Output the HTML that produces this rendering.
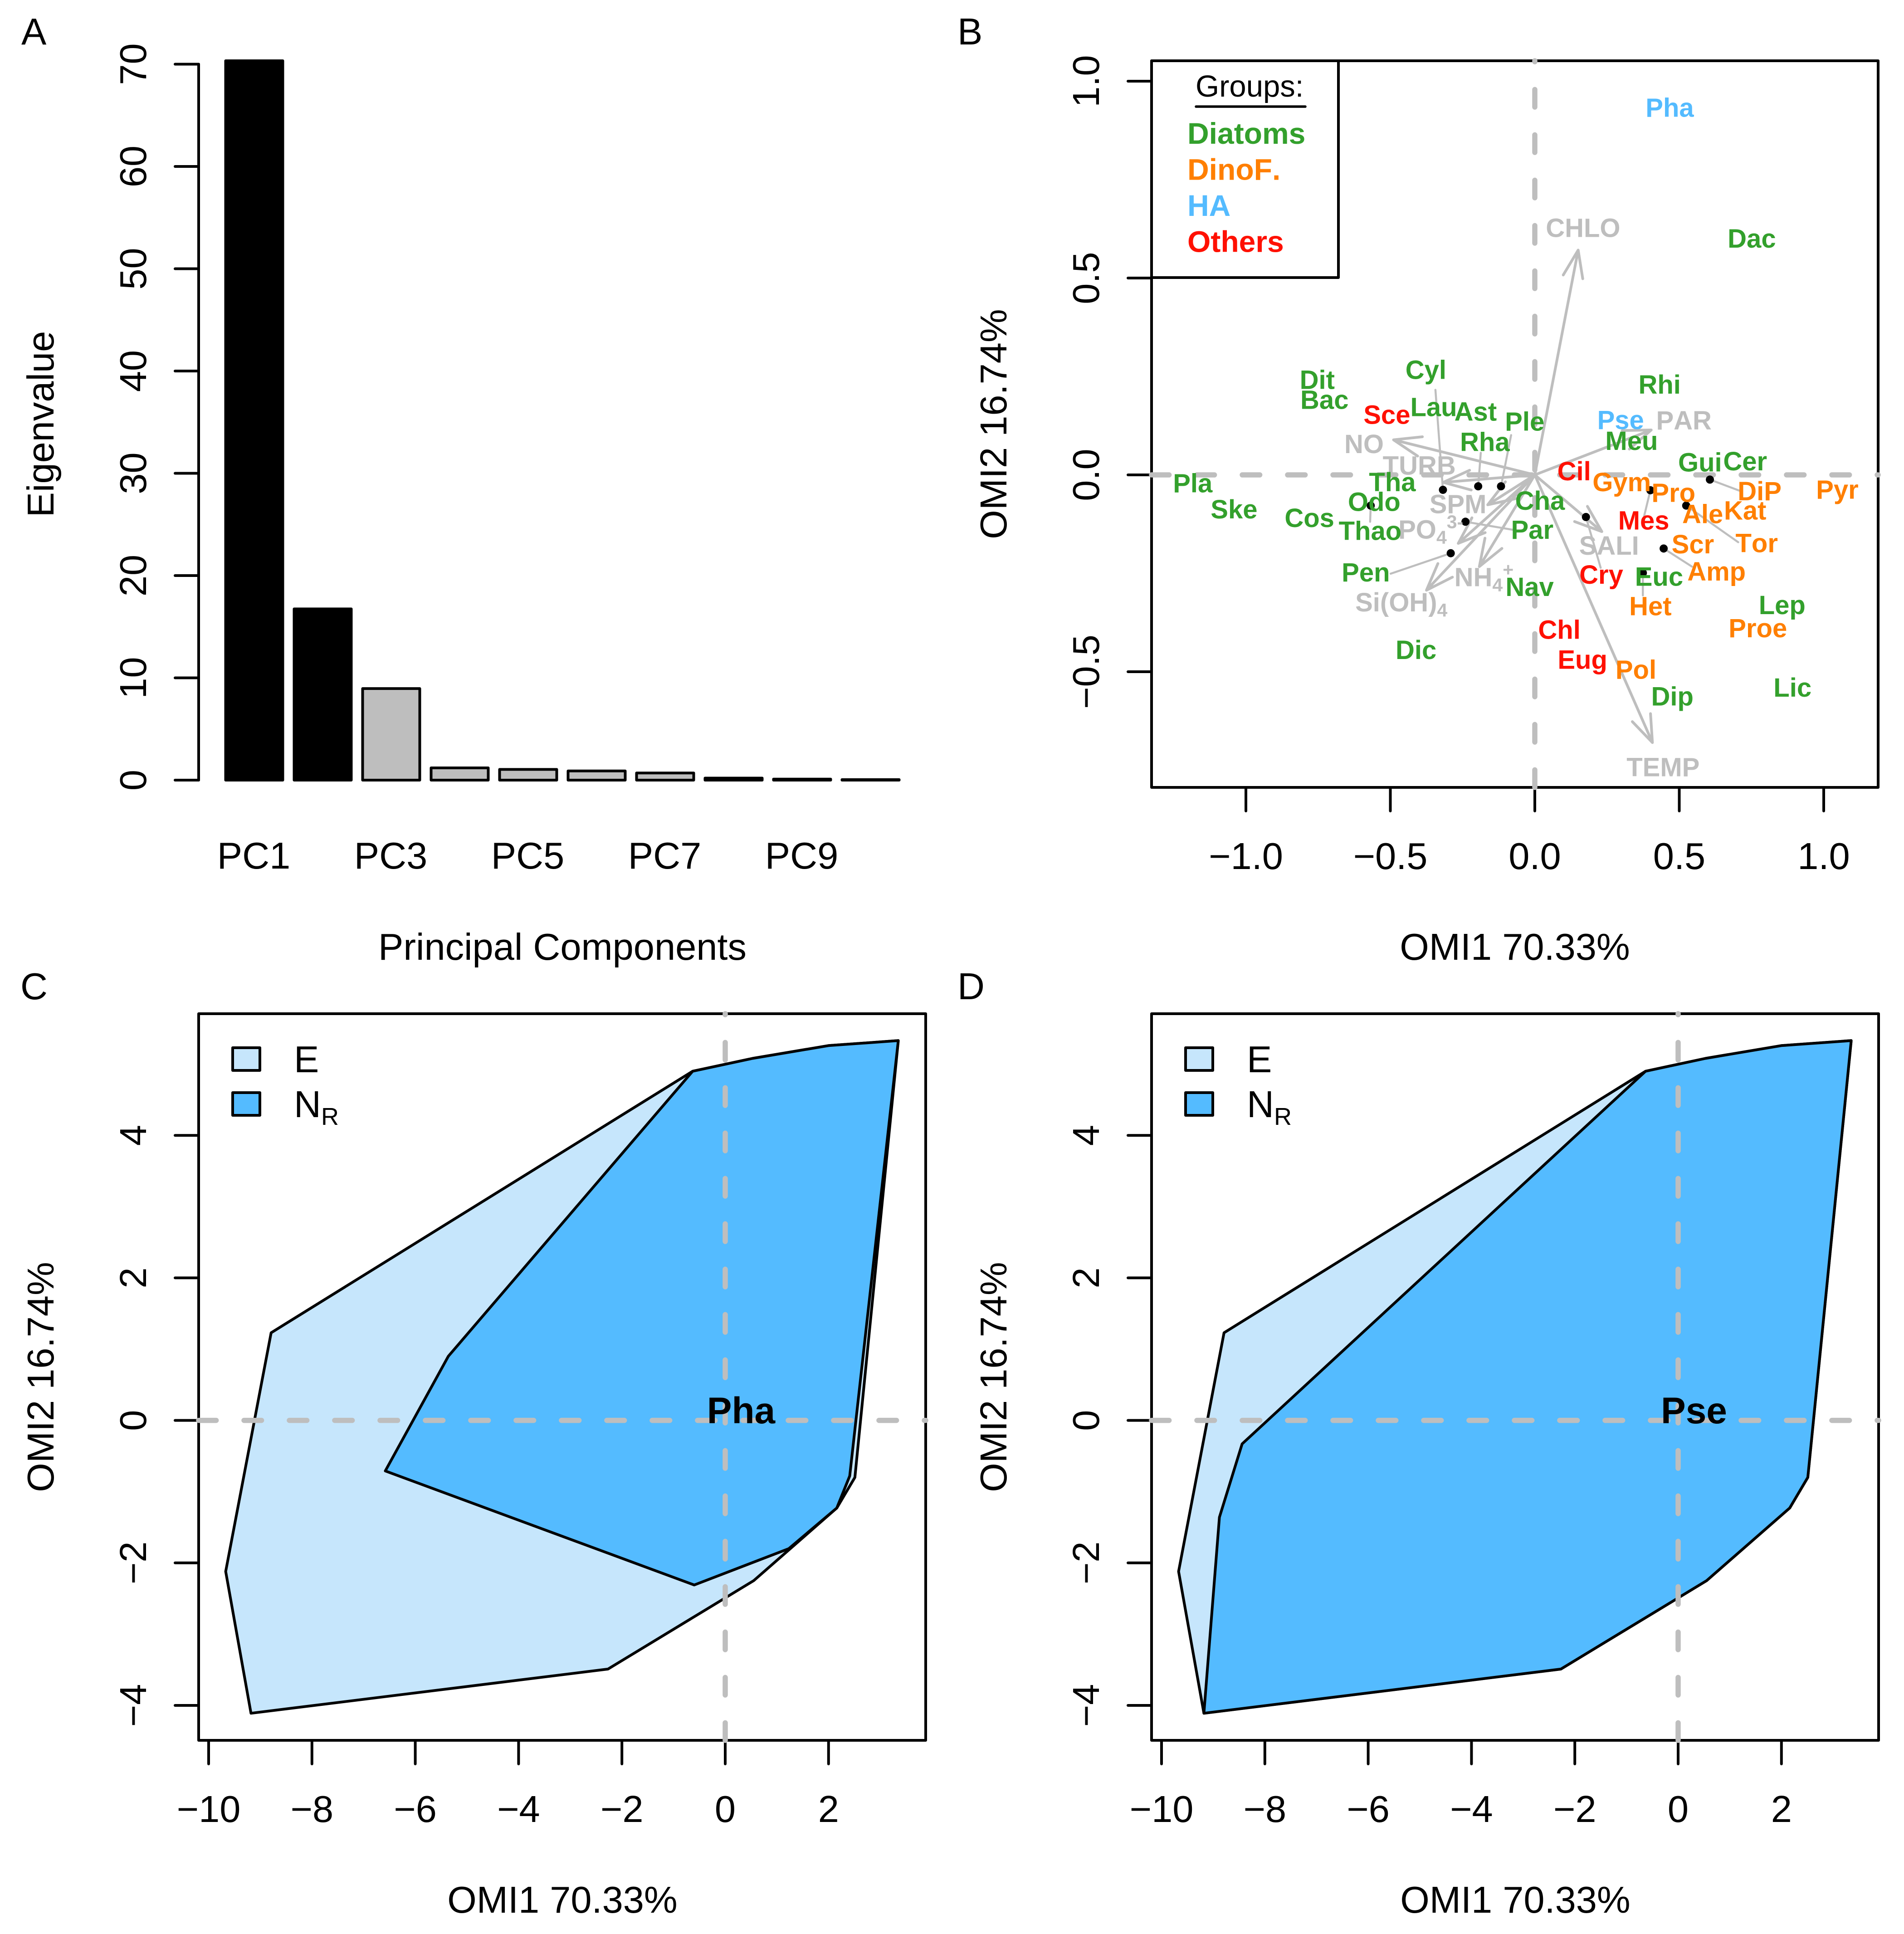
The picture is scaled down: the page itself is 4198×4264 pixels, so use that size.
<!DOCTYPE html>
<html lang="en">
<head>
<meta charset="utf-8">
<title>OMI analysis panels</title>
<style>
html,body{margin:0;padding:0;background:#fff;}
svg{display:block;font-family:"Liberation Sans",sans-serif;font-kerning:none;}
</style>
</head>
<body>
<svg id="figure" xmlns="http://www.w3.org/2000/svg" width="4198" height="4264" viewBox="0 0 4198 4264">
<rect x="0" y="0" width="4198" height="4264" fill="#ffffff"/>
<g id="panelA"></g>
<g id="panelB"></g>
<g id="panelC"></g>
<g id="panelD"></g>
</svg>
<script>
// ---------- Panel A data ----------
const pcCategories = ['PC1','PC2','PC3','PC4','PC5','PC6','PC7','PC8','PC9','PC10'];
const eigenvalues = [70.33,16.74,8.95,1.2,1.05,0.9,0.7,0.2,0.1,0.05];
const barFillKinds = ['kept','kept','other','other','other','other','other','other','other','other'];
const pcTickLabels = ['PC1','PC3','PC5','PC7','PC9'];
const eigenTicks = [0,10,20,30,40,50,60,70];

// ---------- Panel B data ----------
const biplotXTicks = [-1,-0.5,0,0.5,1];
const biplotYTicks = [-0.5,0,0.5,1];
const biplotXTickLabels = ['\u22121.0','\u22120.5','0.0','0.5','1.0'];
const biplotYTickLabels = ['\u22120.5','0.0','0.5','1.0'];
const speciesNames = ['Pha','Dac','Rhi','Dit','Bac','Cyl','Sce','Lau','Ast','Ple','Rha','Pse','Meu','Gui','Cer','Cil','Gym','Pro','DiP','Pyr','Pla','Ske','Tha','Odo','Cos','Thao','Cha','Par','Mes','Ale','Kat','Tor','Scr','Amp','Cry','Euc','Pen','Nav','Lep','Het','Proe','Chl','Dic','Eug','Pol','Dip','Lic'];
const speciesX = [0.467,0.751,0.432,-0.753,-0.728,-0.377,-0.512,-0.350,-0.205,-0.035,-0.173,0.297,0.335,0.572,0.728,0.136,0.301,0.480,0.778,1.047,-1.184,-1.041,-0.493,-0.556,-0.780,-0.570,0.018,-0.009,0.377,0.581,0.728,0.768,0.547,0.629,0.230,0.430,-0.585,-0.018,0.856,0.400,0.772,0.085,-0.411,0.165,0.350,0.476,0.892];
const speciesY = [0.929,0.597,0.226,0.238,0.187,0.263,0.149,0.169,0.157,0.132,0.080,0.136,0.083,0.028,0.031,0.006,-0.022,-0.049,-0.045,-0.041,-0.025,-0.091,-0.022,-0.072,-0.113,-0.146,-0.069,-0.143,-0.119,-0.103,-0.094,-0.177,-0.180,-0.249,-0.257,-0.262,-0.251,-0.288,-0.334,-0.337,-0.393,-0.397,-0.448,-0.473,-0.498,-0.566,-0.544];
const speciesGroup = ['HA','Diatoms','Diatoms','Diatoms','Diatoms','Diatoms','Others','Diatoms','Diatoms','Diatoms','Diatoms','HA','Diatoms','Diatoms','Diatoms','Others','DinoF','DinoF','DinoF','DinoF','Diatoms','Diatoms','Diatoms','Diatoms','Diatoms','Diatoms','Diatoms','Diatoms','Others','DinoF','DinoF','DinoF','DinoF','DinoF','Others','Diatoms','Diatoms','Diatoms','Diatoms','DinoF','DinoF','Others','Diatoms','Others','DinoF','Diatoms','Diatoms'];
const displacedX = [-0.318,-0.196,-0.117,-0.568,-0.240,-0.291,0.177,0.400,0.524,0.606,0.446,0.374];
const displacedY = [-0.038,-0.029,-0.029,-0.078,-0.119,-0.199,-0.107,-0.039,-0.078,-0.012,-0.187,-0.249];
const leaderX = [-0.344,-0.187,-0.082,-0.570,-0.072,-0.499,0.228,0.378,0.704,0.708,0.544,0.374];
const leaderY = [0.216,0.056,0.101,-0.119,-0.140,-0.251,-0.236,-0.106,-0.171,-0.040,-0.233,-0.306];
const envNames = ['CHLO','PAR','NO','TURB','SPM','PO','Si(OH)','NH','SALI','TEMP'];
const envSub = ['','','','','','4','4','4','',''];
const envSup = ['','','','','','3-','','+','',''];
const envArrowX = [0.150,0.403,-0.489,-0.317,-0.163,-0.265,-0.375,-0.192,0.232,0.407];
const envArrowY = [0.571,0.114,0.089,-0.019,-0.076,-0.174,-0.293,-0.233,-0.144,-0.680];
const envLabelX = [0.167,0.516,-0.591,-0.400,-0.266,-0.360,-0.462,-0.176,0.257,0.444];
const envLabelY = [0.624,0.135,0.075,0.020,-0.078,-0.142,-0.327,-0.263,-0.183,-0.746];
const groupLegendNames = ['Diatoms','DinoF.','HA','Others'];
const groupLegendKeys = ['Diatoms','DinoF','HA','Others'];

// ---------- Panels C / D data ----------
const hullXTicks = [-10,-8,-6,-4,-2,0,2];
const hullYTicks = [-4,-2,0,2,4];
const envelopeX = [-8.79,-0.63,0.53,2.0,3.35,2.51,2.16,0.55,-2.27,-9.18,-9.67];
const envelopeY = [1.23,4.90,5.08,5.26,5.33,-0.80,-1.23,-2.25,-3.49,-4.11,-2.12];
const phaNicheX = [-5.36,-0.63,0.53,2.0,3.35,2.41,2.16,1.23,-0.60,-6.58];
const phaNicheY = [0.90,4.90,5.08,5.26,5.33,-0.78,-1.23,-1.80,-2.31,-0.71];
const pseNicheX = [-8.44,-0.63,0.53,2.0,3.35,2.51,2.16,0.55,-2.27,-9.18,-8.88];
const pseNicheY = [-0.33,4.90,5.08,5.26,5.33,-0.80,-1.23,-2.25,-3.49,-4.11,-1.36];
const nicheLabelX = 0.307;
const nicheLabelY = 0.144;

// ---------- Styles and helpers ----------
const NS = 'http://www.w3.org/2000/svg';
const GRAY = '#bebebe';
const LIGHT = '#c6e6fc';
const BLUE = '#54bbff';
const groupColors = {Diatoms:'#33a02c',DinoF:'#ff7f00',HA:'#54bbff',Others:'#ff1000'};
const LW = 6;
const FS = 83;

function make(parent, tag, attrs, txt){
  const node = document.createElementNS(NS, tag);
  for (const k in attrs) node.setAttribute(k, attrs[k]);
  if (txt !== undefined) node.textContent = txt;
  parent.appendChild(node);
  return node;
}
function lineAttrs(x1,y1,x2,y2,stroke,w){
  return {x1:x1,y1:y1,x2:x2,y2:y2,stroke:stroke,'stroke-width':w,'stroke-linecap':'round'};
}
function rotatedAttrs(x,y,size){
  return {x:x,y:y,'font-size':size,'text-anchor':'middle',fill:'#000',transform:'rotate(-90 '+x+' '+y+')'};
}
function flatAttrs(x,y,size,anchor,weight,fill){
  return {x:x,y:y,'font-size':size,'text-anchor':anchor||'middle','font-weight':weight||'normal',fill:fill||'#000'};
}
function polyPoints(xs,ys,sx,sy){
  return xs.map(function(v,i){return sx(v).toFixed(1)+','+sy(ys[i]).toFixed(1);}).join(' ');
}

// ---------- Panel A ----------
(function(){
  const g = document.getElementById('panelA');
  const yA = function(v){return 1720 - v*22.55;};
  const xA = function(i){return 497.5 + 151*i;};
  const barW = 126;
  const letter = make(g,'text',flatAttrs(47,98,FS,'start'),'A');
  
  
  eigenvalues.forEach(function(v,i){
    const bar = make(g,'rect',{x:xA(i),y:yA(v),width:barW,height:yA(0)-yA(v),fill:barFillKinds[i]==='kept'?'#000':GRAY,stroke:'#000','stroke-width':LW,'stroke-linejoin':'round'});
    
    
  });
  const axisLine = make(g,'line',lineAttrs(438,yA(eigenTicks[0]),438,yA(eigenTicks[eigenTicks.length-1]),'#000',LW));
  
  
  eigenTicks.forEach(function(t){
    const tick = make(g,'line',lineAttrs(386,yA(t),438,yA(t),'#000',LW));
    
    
    const lab = make(g,'text',rotatedAttrs(322,yA(t),FS),String(t));
    
    
  });
  pcTickLabels.forEach(function(t){
    const idx = pcCategories.indexOf(t);
    const lab = make(g,'text',flatAttrs(xA(idx)+barW/2-1,1915,FS),t);
    
    
  });
  const xTitle = make(g,'text',flatAttrs(1240,2116,FS),'Principal Components');
  
  
  const yTitle = make(g,'text',rotatedAttrs(118,935,FS),'Eigenvalue');
  
  
})();

// ---------- Panel B ----------
(function(){
  const g = document.getElementById('panelB');
  const L=2539,R=4141,T=134,B=1736;
  const sx = function(v){return 3384 + 637*v;};
  const sy = function(v){return 1047 - 868*v;};
  const letter = make(g,'text',flatAttrs(2111,98,FS,'start'),'B');
  
  
  const box = make(g,'rect',{x:L,y:T,width:R-L,height:B-T,fill:'none',stroke:'#000','stroke-width':LW,'stroke-linejoin':'round'});
  
  
  biplotXTicks.forEach(function(t,i){
    const tick = make(g,'line',lineAttrs(sx(t),B,sx(t),B+52,'#000',LW));
    
    
    const lab = make(g,'text',flatAttrs(sx(t),B+180,FS),biplotXTickLabels[i]);
    
    
  });
  biplotYTicks.forEach(function(t,i){
    const tick = make(g,'line',lineAttrs(L-52,sy(t),L,sy(t),'#000',LW));
    
    
    const lab = make(g,'text',rotatedAttrs(L-116,sy(t),FS),biplotYTickLabels[i]);
    
    
  });
  const zeroH = make(g,'line',Object.assign(lineAttrs(L,sy(0),R,sy(0),GRAY,11.5),{'stroke-dasharray':'38.6 61.4'}));
  
  
  const zeroV = make(g,'line',Object.assign(lineAttrs(sx(0),B,sx(0),T,GRAY,11.5),{'stroke-dasharray':'38.6 61.4'}));
  
  

  // environmental arrows
  envArrowX.forEach(function(ax,i){
    const tipX = sx(ax), tipY = sy(envArrowY[i]);
    const ox = sx(0), oy = sy(0);
    const ang = Math.atan2(tipY-oy, tipX-ox);
    const hl = 64, ha = 20*Math.PI/180;
    const b1x = tipX - hl*Math.cos(ang-ha), b1y = tipY - hl*Math.sin(ang-ha);
    const b2x = tipX - hl*Math.cos(ang+ha), b2y = tipY - hl*Math.sin(ang+ha);
    const d = 'M'+ox+' '+oy+'L'+tipX.toFixed(1)+' '+tipY.toFixed(1)+
      'M'+b1x.toFixed(1)+' '+b1y.toFixed(1)+'L'+tipX.toFixed(1)+' '+tipY.toFixed(1)+'L'+b2x.toFixed(1)+' '+b2y.toFixed(1);
    const arrow = make(g,'path',{d:d,fill:'none',stroke:GRAY,'stroke-width':6,'stroke-linecap':'round','stroke-linejoin':'round'});
    
    
  });
  // leaders
  leaderX.forEach(function(lx,i){
    const seg = make(g,'line',lineAttrs(sx(lx),sy(leaderY[i]),sx(displacedX[i]),sy(displacedY[i]),GRAY,4.5));
    
    
  });
  // points
  displacedX.forEach(function(px,i){
    const dot = make(g,'circle',{cx:sx(px),cy:sy(displacedY[i]),r:9,fill:'#000'});
    
    
  });
  // environmental labels
  envNames.forEach(function(n,i){
    const t = make(g,'text',flatAttrs(sx(envLabelX[i]),sy(envLabelY[i])+17,58,'middle','bold',GRAY),n);
    
    
    if (envSub[i]) make(t,'tspan',{dy:11,'font-size':41},envSub[i]);
    if (envSup[i]) make(t,'tspan',{dy:-34,'font-size':41},envSup[i]);
  });
  // species labels
  speciesNames.forEach(function(n,i){
    const t = make(g,'text',flatAttrs(sx(speciesX[i]),sy(speciesY[i])+17,58,'middle','bold',groupColors[speciesGroup[i]]),n);
    
    
  });
  // legend
  const lg = make(g,'g',{});
  
  
  const lbox = make(lg,'rect',{x:L,y:T,width:2951-L,height:612-T,fill:'none',stroke:'#000','stroke-width':LW,'stroke-linejoin':'round'});
  
  
  const lt = make(lg,'text',flatAttrs(2636,213,67,'start'),'Groups:');
  
  
  const lu = make(lg,'line',lineAttrs(2637,235,2878,235,'#000',5.5));
  
  
  groupLegendNames.forEach(function(n,i){
    const e = make(lg,'text',flatAttrs(2618,317+79.5*i,66,'start','bold',groupColors[groupLegendKeys[i]]),n);
    
    
  });
  const xTitle = make(g,'text',flatAttrs(3340,2116,FS),'OMI1 70.33%');
  
  
  const yTitle = make(g,'text',rotatedAttrs(2219,935,FS),'OMI2 16.74%');
  
  
})();

// ---------- Panels C and D ----------
function drawNichePanel(g, off, letterText, letterX, nicheX, nicheY, species){
  const L=438+off,R=2041+off,T=2235,B=3837;
  const sx = function(v){return 1599 + off + 113.9*v;};
  const sy = function(v){return 3131.6 - 157.1*v;};
  const letter = make(g,'text',flatAttrs(letterX,2203,FS,'start'),letterText);
  
  
  const box = make(g,'rect',{x:L,y:T,width:R-L,height:B-T,fill:'none',stroke:'#000','stroke-width':LW,'stroke-linejoin':'round'});
  
  
  hullXTicks.forEach(function(t){
    const tick = make(g,'line',lineAttrs(sx(t),B,sx(t),B+52,'#000',LW));
    
    
    const lab = make(g,'text',flatAttrs(sx(t),B+180,FS),String(t).replace('-','\u2212'));
    
    
  });
  hullYTicks.forEach(function(t){
    const tick = make(g,'line',lineAttrs(L-52,sy(t),L,sy(t),'#000',LW));
    
    
    const lab = make(g,'text',rotatedAttrs(L-116,sy(t),FS),String(t).replace('-','\u2212'));
    
    
  });
  const env = make(g,'polygon',{points:polyPoints(envelopeX,envelopeY,sx,sy),fill:LIGHT,stroke:'#000','stroke-width':6,'stroke-linejoin':'round'});
  
  
  const niche = make(g,'polygon',{points:polyPoints(nicheX,nicheY,sx,sy),fill:BLUE,stroke:'#000','stroke-width':6,'stroke-linejoin':'round'});
  
  
  const zeroH = make(g,'line',Object.assign(lineAttrs(L,sy(0),R,sy(0),GRAY,11.5),{'stroke-dasharray':'38.6 61.4'}));
  
  
  const zeroV = make(g,'line',Object.assign(lineAttrs(sx(0),B,sx(0),T,GRAY,11.5),{'stroke-dasharray':'38.6 61.4'}));
  
  
  const sp = make(g,'text',flatAttrs(sx(nicheLabelX),sy(nicheLabelY)+29,82,'middle','bold','#000'),species);
  
  
  // legend
  const sw1 = make(g,'rect',{x:513+off,y:2310,width:60,height:50,fill:LIGHT,stroke:'#000','stroke-width':LW,'stroke-linejoin':'round'});
  
  
  const sw2 = make(g,'rect',{x:513+off,y:2409,width:60,height:50,fill:BLUE,stroke:'#000','stroke-width':LW,'stroke-linejoin':'round'});
  
  
  const t1 = make(g,'text',flatAttrs(648+off,2364,FS,'start'),'E');
  
  
  const t2 = make(g,'text',flatAttrs(648+off,2463,FS,'start'),'N');
  
  
  make(t2,'tspan',{dy:17,'font-size':54},'R');
  const xTitle = make(g,'text',flatAttrs(1240+off,4217,FS),'OMI1 70.33%');
  
  
  const yTitle = make(g,'text',rotatedAttrs(118+off,3036,FS),'OMI2 16.74%');
  
  
}
drawNichePanel(document.getElementById('panelC'),0,'C',45,phaNicheX,phaNicheY,'Pha');
drawNichePanel(document.getElementById('panelD'),2101,'D',2111,pseNicheX,pseNicheY,'Pse');
</script>
</body>
</html>
